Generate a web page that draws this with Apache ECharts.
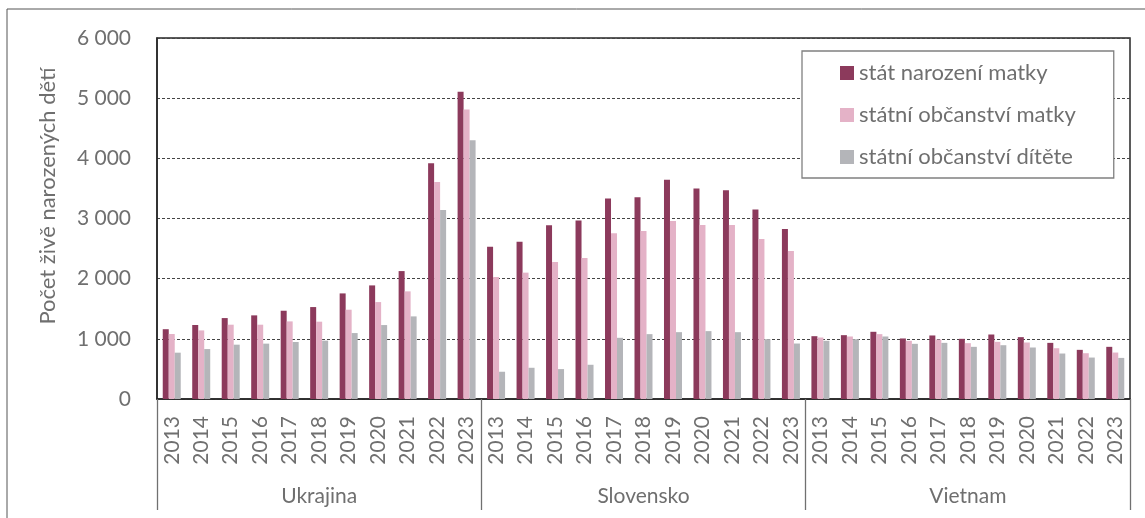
<!DOCTYPE html>
<html>
<head>
<meta charset="utf-8">
<script src="https://cdn.jsdelivr.net/npm/echarts@6/dist/echarts.min.js"></script>
<style>
  html, body { margin: 0; padding: 0; background: #fff; }
  #chart { width: 1145px; height: 518px; }
</style>
</head>
<body>
<div id="chart"></div>
<script>
var countries = ['Ukrajina', 'Slovensko', 'Vietnam'];
var years = ['2013', '2014', '2015', '2016', '2017', '2018', '2019', '2020', '2021', '2022', '2023'];
var seriesNames = ['stát narození matky', 'státní občanství matky', 'státní občanství dítěte'];

// Ukrajina 2013-2023, Slovensko 2013-2023, Vietnam 2013-2023
var birthCountry = [
    1160, 1230, 1345, 1390, 1467, 1528, 1755, 1888, 2126, 3920, 5105,
    2531, 2614, 2886, 2968, 3333, 3355, 3642, 3499, 3471, 3151, 2824,
    1044, 1061, 1117, 1006, 1056, 1000, 1072, 1028, 933, 817, 867
];
var motherCitizen = [
    1080, 1140, 1235, 1235, 1290, 1285, 1484, 1611, 1789, 3605, 4812,
    2028, 2100, 2277, 2343, 2753, 2791, 2957, 2891, 2891, 2658, 2459,
    1022, 1039, 1078, 967, 989, 928, 950, 939, 844, 761, 772
];
var childCitizen = [
    770, 830, 903, 920, 947, 970, 1096, 1229, 1373, 3140, 4302,
    453, 519, 497, 569, 1017, 1078, 1111, 1128, 1111, 995, 922,
    967, 994, 1039, 917, 933, 867, 894, 856, 756, 689, 683
];

var cats = [];
countries.forEach(function (c) {
    years.forEach(function (y) { cats.push(c + '|' + y); });
});

var fontName = 'Lato';
var textGray = '#6f6f6f';

var chart = echarts.init(document.getElementById('chart'));
var option = {
    animation: false,
    textStyle: { fontFamily: fontName },
    color: ['#8c3a5c', '#e4b2c7', '#b4b5b9'],
    grid: {
        left: 157, right: 15, top: 38, bottom: 119,
        show: true, borderColor: '#262626', borderWidth: 1.5
    },
    legend: {
        orient: 'vertical',
        left: 802, top: 51,
        padding: [11, 38, 10, 38],
        itemGap: 20,
        itemWidth: 14, itemHeight: 14,
        icon: 'rect',
        borderColor: '#808080', borderWidth: 1.3,
        backgroundColor: '#fff',
        textStyle: { fontFamily: fontName, fontSize: 22, color: textGray, lineHeight: 20 },
        data: seriesNames
    },
    xAxis: [
        {
            type: 'category',
            data: cats,
            axisLine: { lineStyle: { color: '#262626', width: 1.5 } },
            axisTick: { show: false },
            axisLabel: {
                interval: 0, rotate: 90, margin: 17,
                fontSize: 21, color: textGray, fontFamily: fontName,
                formatter: function (v) { return v.split('|')[1]; }
            }
        },
        {
            type: 'category',
            data: countries,
            position: 'bottom',
            axisLine: { show: false },
            axisTick: { show: true, length: 111, lineStyle: { color: '#707070', width: 1.3 } },
            axisLabel: { margin: 87, fontSize: 21, color: textGray, fontFamily: fontName },
            splitLine: { show: false }
        }
    ],
    yAxis: {
        type: 'value',
        min: 0, max: 6000, interval: 1000,
        axisLine: { show: true, lineStyle: { color: '#262626', width: 1.5 } },
        axisTick: { show: false },
        axisLabel: {
            margin: 26, fontSize: 21, color: textGray, fontFamily: fontName,
            formatter: function (v) { return String(v).replace(/\B(?=(\d{3})+(?!\d))/g, ' '); }
        },
        splitLine: { lineStyle: { color: '#444', type: [3, 2], width: 1 } }
    },
    graphic: [
        {
            type: 'rect',
            shape: { x: 7, y: 9, width: 1300, height: 700 },
            style: { fill: 'none', stroke: '#555', lineWidth: 1 },
            silent: true
        },
        {
            type: 'text',
            x: 48, y: 196,
            rotation: Math.PI / 2,
            style: {
                text: 'Počet živě narozených dětí',
                fontFamily: fontName, fontSize: 22, fill: textGray,
                textAlign: 'center', textVerticalAlign: 'middle'
            }
        }
    ],
    series: [
        { name: seriesNames[0], type: 'bar', barWidth: 6, barGap: '0%', data: birthCountry },
        { name: seriesNames[1], type: 'bar', barWidth: 6, barGap: '0%', data: motherCitizen },
        { name: seriesNames[2], type: 'bar', barWidth: 6, barGap: '0%', data: childCitizen }
    ]
};
chart.setOption(option);
</script>
</body>
</html>
